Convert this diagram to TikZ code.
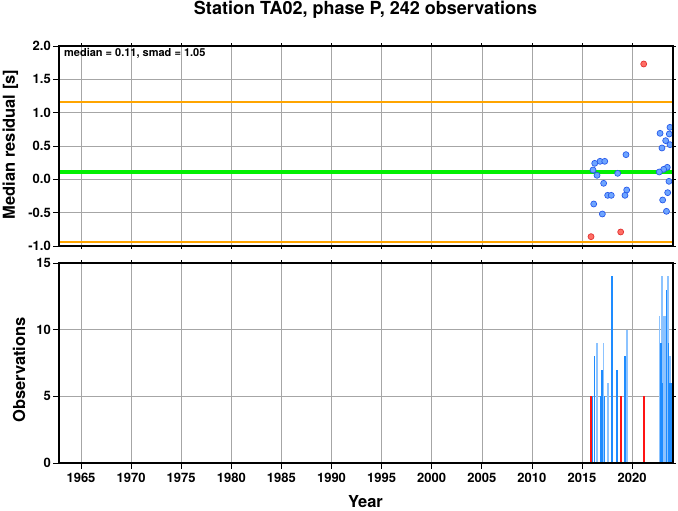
\documentclass[tikz,border=0pt]{standalone}
\usepackage{fontspec}
\setmainfont{TeX Gyre Heros}
\usetikzlibrary{positioning}

\definecolor{medgreen}{RGB}{0,240,0}
\definecolor{smadorange}{RGB}{255,165,0}
\definecolor{dotblue}{RGB}{110,165,255}
\definecolor{dotedge}{RGB}{40,90,235}
\definecolor{dotred}{RGB}{255,110,100}
\definecolor{dotrededge}{RGB}{225,50,50}
\definecolor{bardark}{RGB}{30,140,255}
\definecolor{barlight}{RGB}{140,195,255}
\definecolor{barred}{RGB}{255,20,20}

\begin{document}
\begin{tikzpicture}[x=1pt, y=1pt,
  grid line/.style={gray!70, line width=0.5pt},
  frame line/.style={black, line width=1.6pt},
  tick line/.style={black, line width=0.8pt},
  ticklabel/.style={font=\fontsize{13}{13}\selectfont\bfseries, inner sep=0pt},
  axislabel/.style={font=\fontsize{16.5}{16.5}\selectfont\bfseries, inner sep=0pt},
  bluedot/.style={fill=dotblue, draw=dotedge, line width=0.7pt},
  reddot/.style={fill=dotred, draw=dotrededge, line width=0.7pt}]

  \useasboundingbox (0,0) rectangle (678,511);

  % title
  \node[font=\fontsize{18}{18}\selectfont\bfseries, inner sep=0pt, anchor=base]
    (title) at (365.5,496) {Station TA02, phase P, 242 observations};

  % upper panel: median residuals
  \begin{scope}[xshift=30.9pt, yshift=331.67pt, x=10.02pt, y=66.67pt]
    \foreach \t in {5,10,...,60}
      \draw[grid line] (\t,-1) -- (\t,2);
    \foreach \v in {-0.5,0,...,1.5}
      \draw[grid line] (2.8,\v) -- (64.07,\v);

    \begin{scope}
      \clip (2.8,-1) rectangle (64.07,2);
      % smad and median lines
      \draw[smadorange, line width=2.2pt] (2.8,1.16) -- (64.07,1.16);
      \draw[smadorange, line width=2.2pt] (2.8,-0.94) -- (64.07,-0.94);
      \draw[medgreen, line width=4pt] (2.8,0.11) -- (64.07,0.11);
      % observations
      \foreach \t/\v in {62.79/0.69,63.78/0.78,63.71/0.68,63.35/0.58,63.78/0.52,
          62.98/0.47,59.39/0.37,56.80/0.27,57.27/0.27,56.27/0.24,56.10/0.14,
          63.51/0.18,63.15/0.15,62.71/0.11,58.56/0.09,56.50/0.06,63.68/-0.03,
          57.16/-0.06,59.46/-0.16,57.56/-0.24,57.92/-0.24,59.29/-0.24,
          63.55/-0.20,63.05/-0.31,56.17/-0.37,63.43/-0.48,57.03/-0.52}
        \draw[bluedot] (\t,\v) circle[radius=3pt];
      \foreach \t/\v in {61.16/1.73,55.90/-0.86,58.86/-0.79}
        \draw[reddot] (\t,\v) circle[radius=3pt];
    \end{scope}

    % ticks
    \foreach \t in {5,10,...,60} {
      \draw[tick line] (\t,2) -- ++(0,3pt);
      \draw[tick line] (\t,-1) -- ++(0,-3pt);
    }
    \foreach \v [count=\i] in {-1.0,-0.5,0.0,0.5,1.0,1.5,2.0} {
      \draw[tick line] (2.8,\v) -- ++(-6pt,0);
      \draw[tick line] (64.07,\v) -- ++(3pt,0);
      \node[ticklabel, anchor=east] (resid\i) at ([xshift=-8pt]2.8,\v) {\v};
    }
    \draw[frame line] (2.8,-1) rectangle (64.07,2);

    \node[font=\fontsize{11}{11}\selectfont\bfseries, anchor=west, inner sep=0pt]
      (stats) at ([xshift=5pt,yshift=-7pt]2.8,2) {median = 0.11, smad = 1.05};
  \end{scope}
  \node[axislabel, rotate=90, anchor=base] (residlabel) at (15,366.5) {Median residual [s]};

  % lower panel: observation counts
  \begin{scope}[xshift=30.9pt, yshift=48pt, x=10.02pt, y=13.33pt]
    \foreach \t in {5,10,...,60}
      \draw[grid line] (\t,0) -- (\t,15);
    \foreach \c in {5,10}
      \draw[grid line] (2.8,\c) -- (64.07,\c);

    \begin{scope}
      \clip (2.8,0) rectangle (64.07,15);
      \foreach \t/\c in {56.47/9,57.15/9,57.57/6,59.46/10,62.74/11,62.99/14,
          63.12/11,63.25/11,63.38/11,63.58/14,63.79/8}
        \fill[barlight] (\t-0.09,0) rectangle (\t+0.09,\c);
      \foreach \t/\c in {55.97/5,56.25/8,56.83/5,57.0/7,57.23/5,57.98/14,58.52/7,
          59.32/8,62.86/9,63.03/6,63.45/13,63.63/9,63.73/6,63.83/6,63.93/6,64.0/6}
        \fill[bardark] (\t-0.08,0) rectangle (\t+0.08,\c);
      \foreach \t/\c in {55.90/5,58.86/5,61.20/5}
        \fill[barred] (\t-0.09,0) rectangle (\t+0.09,\c);
    \end{scope}

    % ticks
    \foreach \t [evaluate=\t as \yr using int(1960+\t)] in {5,10,...,60} {
      \draw[tick line] (\t,15) -- ++(0,3pt);
      \draw[tick line] (\t,0) -- ++(0,-6pt);
      \node[ticklabel, anchor=base] (year\yr) at ([yshift=-20pt]\t,0) {\yr};
    }
    \foreach \c in {0,5,10,15} {
      \draw[tick line] (2.8,\c) -- ++(-6pt,0);
      \draw[tick line] (64.07,\c) -- ++(3pt,0);
      \node[ticklabel, anchor=east] (count\c) at ([xshift=-8pt]2.8,\c) {\c};
    }
    \draw[frame line] (2.8,0) rectangle (64.07,15);
  \end{scope}
  \node[axislabel, rotate=90, anchor=base] (countlabel) at (25,141) {Observations};
  \node[axislabel, anchor=base] (yearlabel) at (365.5,3) {Year};

\end{tikzpicture}
\end{document}
